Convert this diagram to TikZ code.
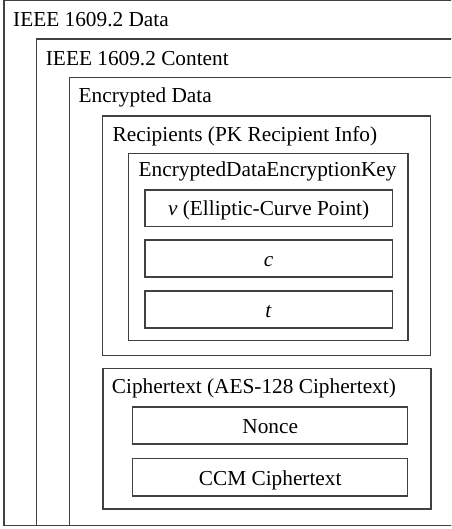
\documentclass[tikz,border=0pt]{standalone}
\usepackage{fontspec}
\setmainfont{Liberation Serif}
\begin{document}
\begin{tikzpicture}[x=1pt,y=-1pt,
  box/.style={draw=black!75, line width=1.2pt, anchor=north west, inner sep=0pt, outer sep=0pt},
  ttl/.style={anchor=base west, inner sep=0pt, font=\fontsize{21.3}{25}\selectfont},
  lbl/.style={anchor=base, inner sep=0pt, font=\fontsize{21.3}{25}\selectfont}]
\useasboundingbox (0,0) rectangle (451,529);
\clip (0,0) rectangle (451,529);
% boxes
\node[box, minimum width=466pt, minimum height=525pt] (data) at (4,0.7) {};
\node[box, minimum width=433.3pt, minimum height=486.7pt] (content) at (36.7,39) {};
\node[box, minimum width=400.7pt, minimum height=448.4pt] (enc) at (69.3,77.3) {};
\node[box, minimum width=328pt, minimum height=239.3pt] (recip) at (102.7,116) {};
\node[box, minimum width=279.7pt, minimum height=187.4pt] (edek) at (128.3,153.3) {};
\node[box, minimum width=247.3pt, minimum height=36.7pt] (vbox) at (145,190) {};
\node[box, minimum width=247.3pt, minimum height=37pt] (cbox) at (145,240) {};
\node[box, minimum width=247.3pt, minimum height=37pt] (tbox) at (145,291) {};
\node[box, minimum width=328pt, minimum height=140.7pt] (ct) at (103,368.3) {};
\node[box, minimum width=275pt, minimum height=37pt] (nonce) at (132.7,407) {};
\node[box, minimum width=275pt, minimum height=37.3pt] (ccm) at (132.7,458.7) {};
% titles
\node[ttl] (tdata) at (13,26.5) {IEEE 1609.2 Data};
\node[ttl] (tcontent) at (45.7,65.5) {IEEE 1609.2 Content};
\node[ttl] (tenc) at (78.5,102.5) {Encrypted Data};
\node[ttl] (trecip) at (112.5,142) {Recipients (PK Recipient Info)};
\node[ttl] (tedek) at (138.5,177) {EncryptedDataEncryptionKey};
\node[ttl] (tct) at (111.7,393.5) {Ciphertext (AES-128 Ciphertext)};
% inner labels
\node[lbl] (lv) at ([yshift=-7.5pt]vbox.center) {\textit{v} (Elliptic-Curve Point)};
\node[lbl] (lc) at ([yshift=-8pt]cbox.center) {\textit{c}};
\node[lbl] (lt) at ([yshift=-8pt]tbox.center) {\textit{t}};
\node[lbl] (ln) at ([yshift=-8.3pt]nonce.center) {Nonce};
\node[lbl] (lccm) at ([yshift=-8.3pt]ccm.center) {CCM Ciphertext};
\end{tikzpicture}
\end{document}
